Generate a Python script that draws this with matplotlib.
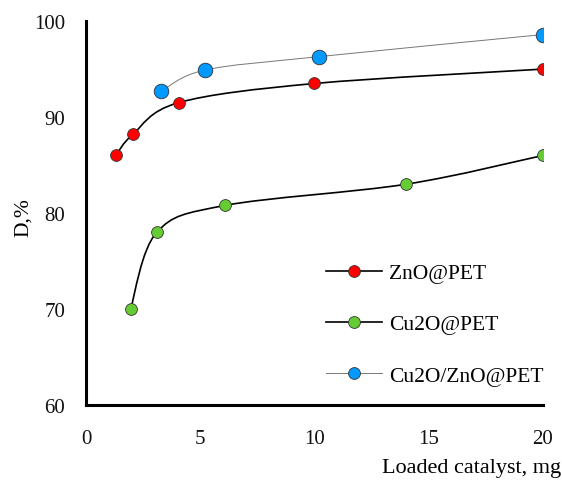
import numpy as np
import matplotlib.pyplot as plt
from matplotlib.path import Path
from matplotlib.patches import PathPatch
from matplotlib.lines import Line2D

plt.rcParams['font.family'] = ['Liberation Serif', 'DejaVu Serif']

# data
zno_x = [1.3, 2.05, 4.05, 10.0, 20.0]
zno_y = [86.0, 88.2, 91.5, 93.5, 95.0]
cu2o_x = [1.95, 3.1, 6.1, 14.0, 20.0]
cu2o_y = [70.0, 78.0, 80.8, 83.0, 86.0]
mix_x = [3.3, 5.2, 10.2, 20.0]
mix_y = [92.7, 94.9, 96.3, 98.6]

labels = ['ZnO@PET', 'Cu2O@PET', 'Cu2O/ZnO@PET']
face = ['#ff0000', '#66cc33', '#0099ff']
line_col = ['black', 'black', '#777777']
line_w = [1.2, 1.2, 0.7]
msize = [8.5, 8.5, 10.5]


def smooth_path(xs, ys):
    # Excel-like smoothed line (Catmull-Rom as cubic Bezier)
    p = np.column_stack([xs, ys]).astype(float)
    verts = [p[0]]
    codes = [Path.MOVETO]
    n = len(p)
    for i in range(n - 1):
        p0 = p[i - 1] if i > 0 else p[i]
        p3 = p[i + 2] if i + 2 < n else p[i + 1]
        c1 = p[i] + (p[i + 1] - p0) / 6
        c2 = p[i + 1] - (p3 - p[i]) / 6
        verts += [c1, c2, p[i + 1]]
        codes += [Path.CURVE4] * 3
    return Path(verts, codes)


fig = plt.figure(figsize=(5.62, 4.81), dpi=100)
ax = fig.add_axes([0.153, 0.156, 0.813, 0.798])

series = [(zno_x, zno_y), (cu2o_x, cu2o_y), (mix_x, mix_y)]
for k, (xs, ys) in enumerate(series):
    ax.add_patch(PathPatch(smooth_path(xs, ys), facecolor='none',
                           edgecolor=line_col[k], lw=line_w[k], zorder=2))
    ax.plot(xs, ys, ls='none', marker='o', ms=msize[k], mfc=face[k],
            mec='#333333', mew=0.6, zorder=3)

ax.set_xlim(0, 20)
ax.set_ylim(60, 100)
ax.set_xticks([0, 5, 10, 15, 20])
ax.set_yticks([60, 70, 80, 90, 100])
ax.tick_params(length=0, labelsize=15, colors='#111111')
ax.tick_params(axis='y', pad=15)
ax.tick_params(axis='x', pad=17)
for s in ['top', 'right']:
    ax.spines[s].set_visible(False)
for s in ['left', 'bottom']:
    ax.spines[s].set_linewidth(2.2)
    ax.spines[s].set_color('black')

ax.set_ylabel('D,%', fontsize=15.5)
ax.yaxis.set_label_coords(-0.115, 0.49)
fig.text(0.999, 0.027, 'Loaded catalyst, mg', ha='right', va='center', fontsize=16)

handles = [Line2D([], [], color=line_col[k], lw=line_w[k], marker='o',
                  ms=8.5, mfc=face[k], mec='#333333', mew=0.6) for k in range(3)]
ax.legend(handles, labels, loc='upper left', bbox_to_anchor=(0.482, 0.42),
          frameon=False, fontsize=15.5, handlelength=2.6, labelspacing=1.45,
          handletextpad=0.35)

fig.savefig('out.png', dpi=100)
